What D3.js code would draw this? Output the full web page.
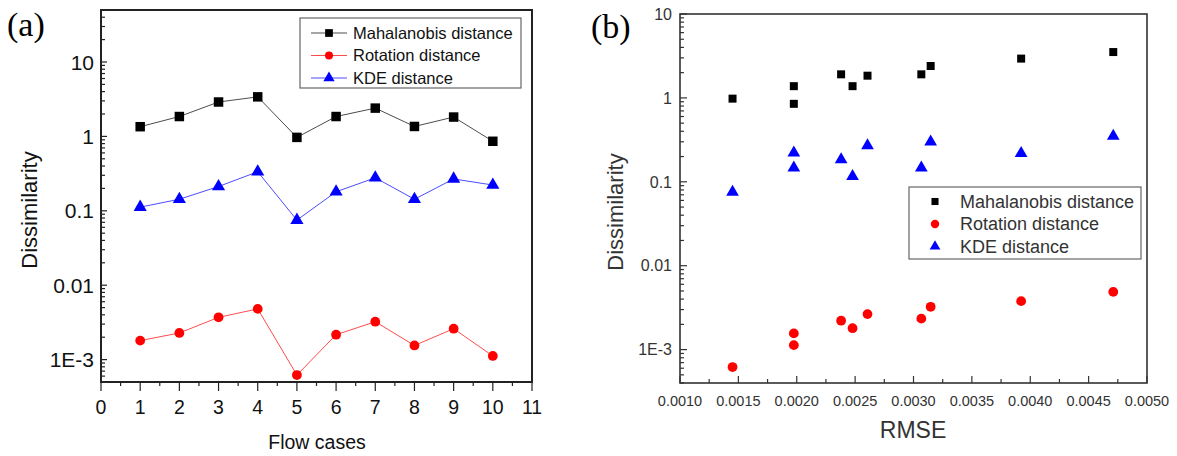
<!DOCTYPE html>
<html>
<head>
<meta charset="utf-8">
<script src="https://cdn.jsdelivr.net/npm/d3@7"></script>
<style>
  body { margin: 0; background: #fff; }
  svg { display: block; font-family: "Liberation Sans", Arial, sans-serif; }
</style>
</head>
<body>
<div id="chart"></div>
<script>
// panel (a): dissimilarity per flow case
var flowCases = [1, 2, 3, 4, 5, 6, 7, 8, 9, 10];
var mahalanobisA = [1.35, 1.85, 2.9, 3.4, 0.97, 1.85, 2.4, 1.36, 1.82, 0.86];
var rotationA = [0.0018, 0.00228, 0.0037, 0.0048, 0.00062, 0.00216, 0.00323, 0.00155, 0.0026, 0.00112];
var kdeA = [0.112, 0.143, 0.212, 0.335, 0.075, 0.18, 0.278, 0.143, 0.268, 0.222];
var xTicksA = [0, 1, 2, 3, 4, 5, 6, 7, 8, 9, 10, 11];

// panel (b): dissimilarity vs RMSE
var rmse = [0.00145, 0.001975, 0.001975, 0.00238, 0.002478, 0.002606, 0.003067, 0.003147, 0.003922, 0.004711];
var mahalanobisB = [0.98, 1.38, 0.85, 1.91, 1.38, 1.84, 1.91, 2.4, 2.94, 3.52];
var rotationB = [0.00062, 0.00156, 0.00113, 0.00221, 0.0018, 0.00265, 0.00234, 0.00324, 0.00378, 0.00488];
var kdeB = [0.0753, 0.221, 0.147, 0.184, 0.116, 0.27, 0.147, 0.30, 0.219, 0.35];
var xTicksB = [0.0010, 0.0015, 0.0020, 0.0025, 0.0030, 0.0035, 0.0040, 0.0045, 0.0050];

var seriesNames = ["Mahalanobis distance", "Rotation distance", "KDE distance"];
var seriesColors = ["#000000", "#ff0000", "#0000ff"];
var seriesShapes = [d3.symbolSquare, d3.symbolCircle, d3.symbolTriangle];

var logLabels = { "10": "10", "1": "1", "0.1": "0.1", "0.01": "0.01", "0.001": "1E-3" };

var svg = d3.select("#chart").append("svg")
    .attr("width", 1177)
    .attr("height", 456);

function minorLogTicks(domain) {
    var out = [];
    var lo = Math.floor(Math.log10(domain[0])), hi = Math.ceil(Math.log10(domain[1]));
    for (var e = lo; e <= hi; e++) {
        for (var k = 1; k < 10; k++) {
            var v = k * Math.pow(10, e);
            if (v >= domain[0] * 0.999 && v <= domain[1] * 1.001) out.push(v);
        }
    }
    return out;
}

function isDecade(d) {
    return Math.abs(Math.log10(d) - Math.round(Math.log10(d))) < 1e-6;
}

function drawPanel(options) {
    var left = options.left, top = options.top, right = options.right, bottom = options.bottom,
        frameColor = options.frame_color, frameWidth = options.frame_width,
        labelColor = options.label_color;

    var g = svg.append("g");

    var x = d3.scaleLinear().domain(options.x_domain).range([left, right]);
    var y = d3.scaleLog().domain(options.y_domain).range([bottom, top]);

    var ydir = options.y_inward ? -1 : 1;
    var xdir = options.x_inward ? -1 : 1;

    // y ticks (major at decades, minor at 2..9)
    var yMinor = minorLogTicks(options.y_domain);
    g.selectAll(".ytick")
        .data(yMinor)
        .enter().append("line")
        .attr("x1", left)
        .attr("x2", function (d) { return left - ydir * (isDecade(d) ? options.major_len : options.minor_len); })
        .attr("y1", function (d) { return y(d); })
        .attr("y2", function (d) { return y(d); })
        .style("stroke", frameColor)
        .style("stroke-width", 1.2);

    g.selectAll(".ylabel")
        .data(yMinor.filter(isDecade))
        .enter().append("text")
        .attr("x", left - options.ylabel_gap)
        .attr("y", function (d) { return y(d); })
        .attr("dy", "0.36em")
        .attr("text-anchor", "end")
        .style("font-size", options.ytick_font + "px")
        .style("fill", labelColor)
        .text(function (d) { return logLabels[String(+d.toPrecision(3))]; });

    // x ticks
    var xt = options.x_ticks;
    var step = xt[1] - xt[0];
    var xMinor = [];
    for (var i = 0; i < xt.length - 1; i++) xMinor.push(xt[i] + step / 2);

    g.selectAll(".xminor")
        .data(xMinor)
        .enter().append("line")
        .attr("x1", function (d) { return x(d); })
        .attr("x2", function (d) { return x(d); })
        .attr("y1", bottom)
        .attr("y2", bottom + xdir * options.minor_len)
        .style("stroke", frameColor)
        .style("stroke-width", 1.2);

    g.selectAll(".xmajor")
        .data(xt)
        .enter().append("line")
        .attr("x1", function (d) { return x(d); })
        .attr("x2", function (d) { return x(d); })
        .attr("y1", bottom)
        .attr("y2", bottom + xdir * options.xmajor_len)
        .style("stroke", frameColor)
        .style("stroke-width", 1.2);

    g.selectAll(".xlabel")
        .data(xt)
        .enter().append("text")
        .attr("x", function (d) { return x(d); })
        .attr("y", bottom + options.xlabel_gap)
        .attr("text-anchor", "middle")
        .style("font-size", options.xtick_font + "px")
        .style("fill", labelColor)
        .text(options.x_format);

    // frame
    g.append("rect")
        .attr("x", left)
        .attr("y", top)
        .attr("width", right - left)
        .attr("height", bottom - top)
        .style("fill", "none")
        .style("stroke", frameColor)
        .style("stroke-width", frameWidth);

    // series
    options.series.forEach(function (values, k) {
        var pts = values.map(function (v, j) { return [options.x_values[j], v]; });
        if (options.lines) {
            g.append("path")
                .datum(pts)
                .attr("d", d3.line().x(function (d) { return x(d[0]); }).y(function (d) { return y(d[1]); }))
                .style("fill", "none")
                .style("stroke", seriesColors[k])
                .style("stroke-opacity", 0.7)
                .style("stroke-width", 1);
        }
        g.selectAll(".m" + k)
            .data(pts)
            .enter().append("path")
            .attr("transform", function (d) { return "translate(" + x(d[0]) + "," + y(d[1]) + ")"; })
            .attr("d", d3.symbol().type(seriesShapes[k]).size(options.marker_sizes[k]))
            .style("fill", seriesColors[k]);
    });

    // axis titles
    g.append("text")
        .attr("transform", "translate(" + options.ytitle_x + "," + options.ytitle_y + ") rotate(-90)")
        .attr("text-anchor", "middle")
        .style("font-size", options.ytitle_font + "px")
        .style("fill", labelColor)
        .text("Dissimilarity");

    g.append("text")
        .attr("x", options.xtitle_x)
        .attr("y", options.xtitle_y)
        .attr("text-anchor", "middle")
        .style("font-size", options.xtitle_font + "px")
        .style("fill", labelColor)
        .text(options.x_title);

    // panel letter
    g.append("text")
        .attr("x", options.letter_x)
        .attr("y", options.letter_y)
        .style("font-family", "'Liberation Serif', 'Times New Roman', serif")
        .style("font-size", "34px")
        .text(options.letter);

    // legend
    var lg = options.legend;
    g.append("rect")
        .attr("x", lg.x)
        .attr("y", lg.y)
        .attr("width", lg.w)
        .attr("height", lg.h)
        .style("fill", "#fff")
        .style("stroke", "#666")
        .style("stroke-width", 1.2);

    seriesNames.forEach(function (name, k) {
        var ly = lg.y + lg.first + k * lg.step;
        if (options.lines) {
            g.append("line")
                .attr("x1", lg.mx - 18).attr("x2", lg.mx + 18)
                .attr("y1", ly).attr("y2", ly)
                .style("stroke", seriesColors[k])
                .style("stroke-opacity", 0.7)
                .style("stroke-width", 1);
        }
        g.append("path")
            .attr("transform", "translate(" + lg.mx + "," + ly + ")")
            .attr("d", d3.symbol().type(seriesShapes[k]).size(options.legend_sizes[k])())
            .style("fill", seriesColors[k]);
        g.append("text")
            .attr("x", lg.tx)
            .attr("y", ly)
            .attr("dy", "0.36em")
            .style("font-size", lg.font + "px")
            .style("fill", labelColor)
            .text(name);
    });
}

drawPanel({
    left: 101, top: 10, right: 532, bottom: 382,
    x_domain: [0, 11], y_domain: [5e-4, 50],
    x_ticks: xTicksA, x_values: flowCases,
    x_format: function (d) { return d; },
    y_inward: true, x_inward: false,
    major_len: 6, minor_len: 4, xmajor_len: 9,
    frame_color: "#222", frame_width: 2,
    ytick_font: 21, xtick_font: 19.5, label_color: "#111",
    ylabel_gap: 7, xlabel_gap: 32,
    series: [mahalanobisA, rotationA, kdeA],
    lines: true,
    marker_sizes: [90, 75, 75],
    legend_sizes: [60, 50, 55],
    ytitle_x: 37, ytitle_y: 210, ytitle_font: 22,
    xtitle_x: 317, xtitle_y: 449, xtitle_font: 19.5, x_title: "Flow cases",
    letter: "(a)", letter_x: 7, letter_y: 36,
    legend: { x: 300, y: 18, w: 221, h: 70, first: 15, step: 22.5, mx: 329, tx: 353, font: 16.5 }
});

drawPanel({
    left: 680, top: 14, right: 1147, bottom: 383,
    x_domain: [0.0010, 0.0050], y_domain: [4e-4, 10],
    x_ticks: xTicksB, x_values: rmse,
    x_format: function (d) { return d.toFixed(4); },
    y_inward: true, x_inward: true,
    major_len: 7, minor_len: 4, xmajor_len: 7,
    frame_color: "#333", frame_width: 1.6,
    ytick_font: 16, xtick_font: 14.5, label_color: "#333",
    ylabel_gap: 8, xlabel_gap: 23,
    series: [mahalanobisB, rotationB, kdeB],
    lines: false,
    marker_sizes: [64, 75, 70],
    legend_sizes: [50, 55, 50],
    ytitle_x: 623, ytitle_y: 212, ytitle_font: 22,
    xtitle_x: 913, xtitle_y: 438, xtitle_font: 23, x_title: "RMSE",
    letter: "(b)", letter_x: 591, letter_y: 38,
    legend: { x: 909, y: 187, w: 232, h: 72, first: 14.5, step: 22.5, mx: 935, tx: 960, font: 18 }
});
</script>
</body>
</html>
